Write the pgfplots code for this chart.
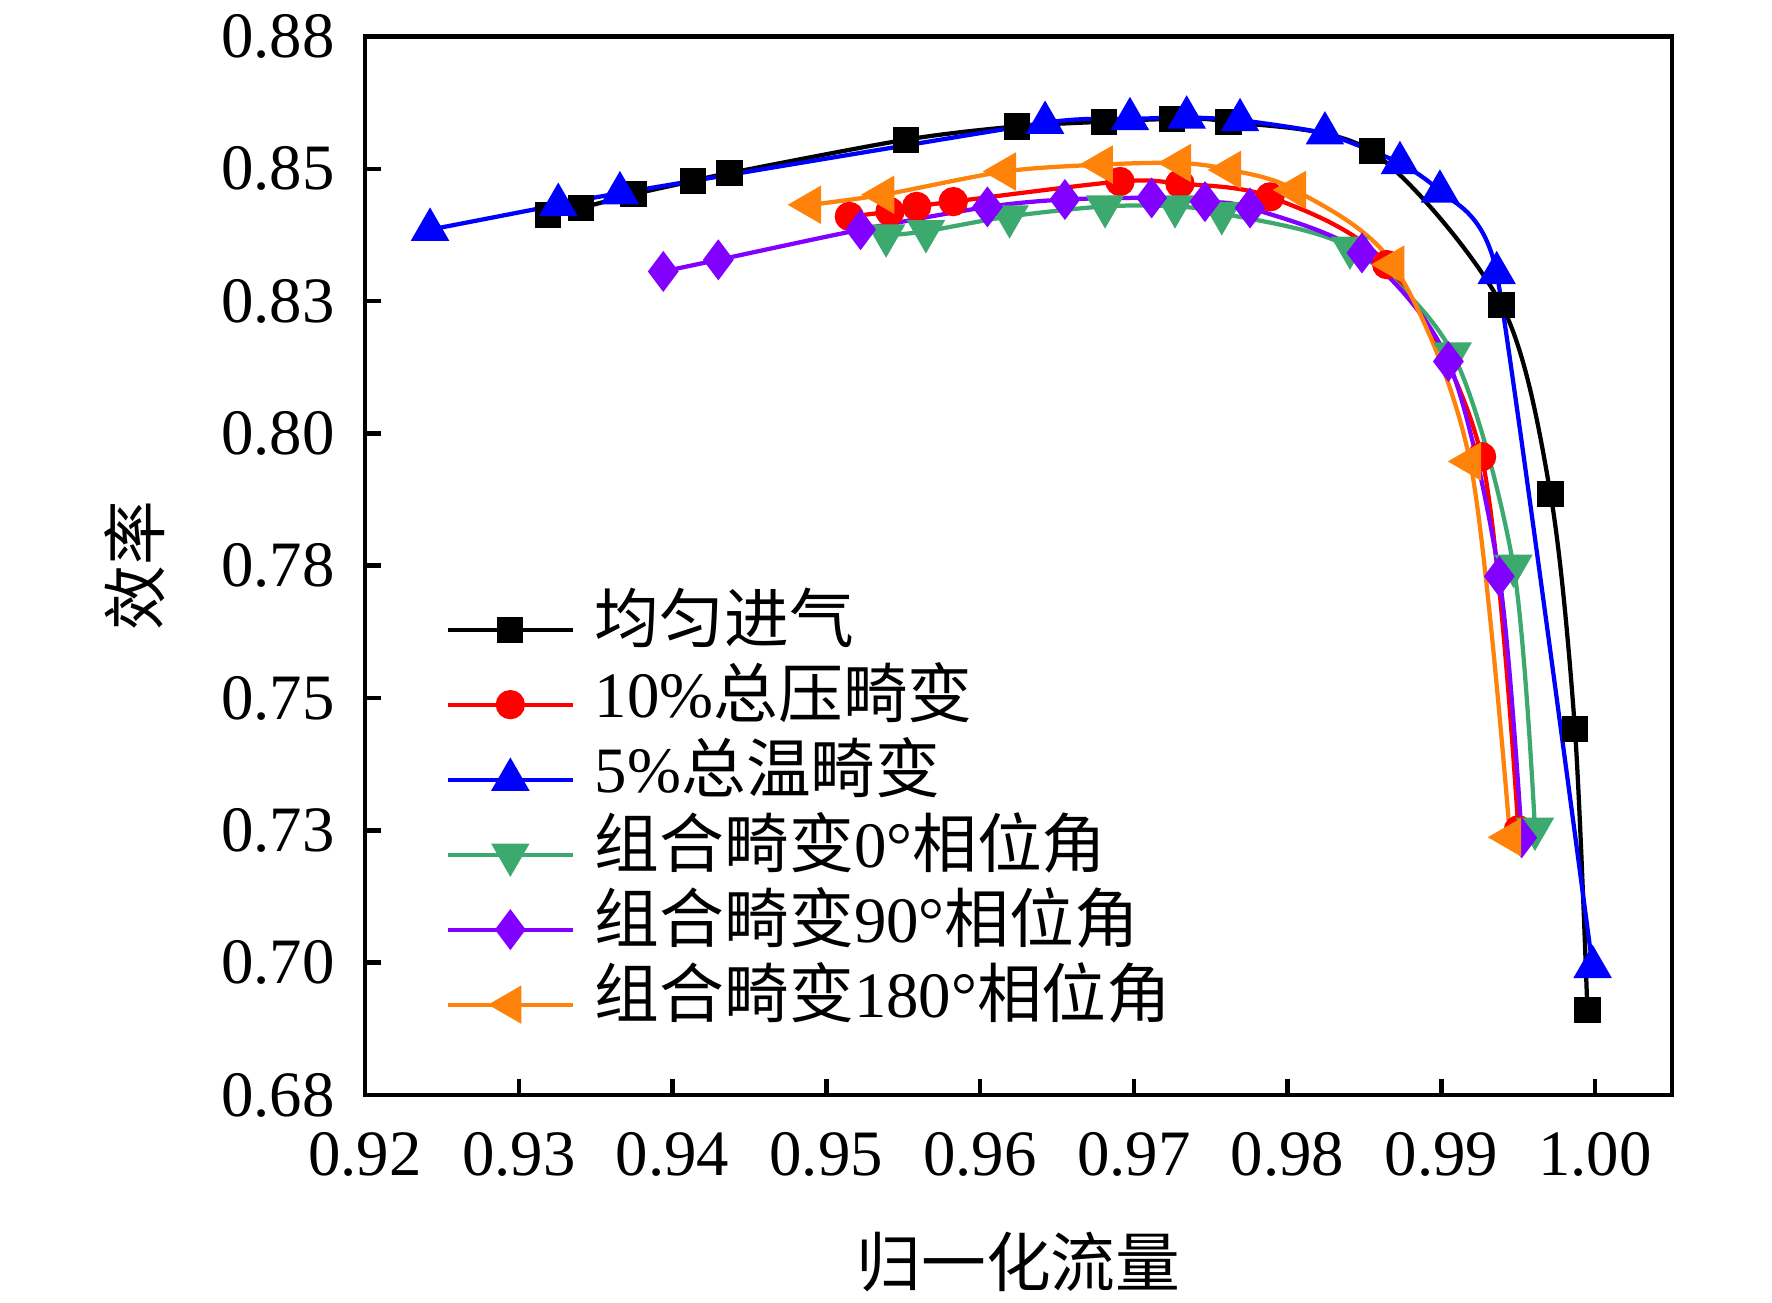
\documentclass[border=0pt]{standalone}
\usepackage{fontspec}
\setmainfont{Liberation Serif}
\newfontfamily\cjk{Noto Sans CJK SC}
\usepackage{pgfplots}
\pgfplotsset{compat=1.18}
\definecolor{cgreen}{RGB}{60,170,110}
\definecolor{cpurple}{RGB}{130,0,255}
\definecolor{corange}{RGB}{255,130,10}
\newcommand{\fs}{\fontsize{13}{15.6}\selectfont}
\begin{document}
\begin{tikzpicture}
\useasboundingbox (-73bp,-41.6bp) rectangle (281.4bp,219.0bp);
\begin{axis}[
  at={(0,0)}, anchor=south west,
  scale only axis, width=261.4bp, height=211.7bp,
  xmin=0.92, xmax=1.005, ymin=0.68, ymax=0.88,
  xtick={0.92,0.93,0.94,0.95,0.96,0.97,0.98,0.99,1.00},
  xticklabels={0.92,0.93,0.94,0.95,0.96,0.97,0.98,0.99,1.00},
  ytick={0.68,0.705,0.73,0.755,0.78,0.805,0.83,0.855,0.88},
  yticklabels={0.68,0.70,0.73,0.75,0.78,0.80,0.83,0.85,0.88},
  xtick pos=bottom, ytick pos=left,
  tick align=inside, major tick length=3.2bp,
  every tick/.style={black, line width=0.9bp},
  axis line style={line width=0.9bp},
  /pgf/number format/assume math mode=true,
  tick label style={font=\fs, inner sep=0pt},
  xticklabel style={anchor=center, yshift=-11.9bp},
  yticklabel style={anchor=east, xshift=-5.9bp},
  xlabel={\cjk 归一化流量},
  ylabel={\cjk 效率},
  label style={font=\fs},
  xlabel style={at={(axis description cs:0.5,-0.158)}, anchor=center},
  ylabel style={at={(axis description cs:-0.176,0.5)}, anchor=center},
  legend image code/.code={\draw[mark repeat=2,mark phase=2] plot coordinates {(0bp,0bp) (12.5bp,0bp) (25bp,0bp)};},
  legend style={draw=none, fill=none, inner sep=0pt, anchor=north west,
    at={(axis description cs:0.0610,0.4760)}, font=\fs, row sep=0pt,
    column sep=4bp,
    nodes={inner sep=0pt, text height=10bp, text depth=5bp}},
  legend cell align=left,
  every axis plot/.append style={line width=0.85bp, smooth, tension=0.5},
]
\addplot[black, mark=square*, mark size=2.2bp, mark options={solid}] coordinates {
(0.93192,0.8463) (0.93403,0.8476) (0.93746,0.8502) (0.94135,0.8527) (0.94370,0.8542)
(0.95518,0.8605) (0.96238,0.8630) (0.96806,0.8639) (0.97247,0.8644) (0.97616,0.8639)
(0.98547,0.8583) (0.99391,0.8293) (0.99710,0.7936) (0.99869,0.7491) (0.99950,0.6961)};
\addlegendentry{\cjk 均匀进气}
\addplot[red, mark=*, mark size=2.5bp] coordinates {
(0.95150,0.8460) (0.95414,0.8469) (0.95588,0.8479) (0.95826,0.8488) (0.96910,0.8526)
(0.97300,0.8522) (0.97886,0.8497) (0.98645,0.8369) (0.99262,0.8006) (0.99501,0.7301)};
\addlegendentry{10\%{\cjk 总压畸变}}
\addplot[blue, mark=triangle*, mark size=3.6bp, tension=0.3] coordinates {
(0.92423,0.8435) (0.93257,0.8482) (0.93658,0.8504) (0.96423,0.8637) (0.96975,0.8644)
(0.97344,0.8647) (0.97691,0.8642) (0.98243,0.8617) (0.98731,0.8561) (0.98991,0.8507)
(0.99360,0.8353) (0.99984,0.7042)};
\addlegendentry{5\%{\cjk 总温畸变}}
\addplot[cgreen, mark=triangle*, mark size=3.6bp, mark options={rotate=180}] coordinates {
(0.95389,0.8424) (0.95648,0.8432) (0.96192,0.8460) (0.96813,0.8479) (0.97268,0.8479)
(0.97572,0.8466) (0.98406,0.8401) (0.99074,0.8201) (0.99469,0.7800) (0.99609,0.7303)};
\addlegendentry{{\cjk 组合畸变}0°{\cjk 相位角}}
\addplot[cpurple, mark=diamond*, mark size=3.4bp] coordinates {
(0.93940,0.8356) (0.94298,0.8378) (0.95223,0.8435) (0.96048,0.8478) (0.96552,0.8492)
(0.97116,0.8495) (0.97463,0.8488) (0.97756,0.8476) (0.98484,0.8391) (0.99046,0.8186)
(0.99377,0.7780) (0.99523,0.7286)};
\addlegendentry{{\cjk 组合畸变}90°{\cjk 相位角}}
\addplot[corange, mark=triangle*, mark size=3.6bp, mark options={rotate=90}] coordinates {
(0.94894,0.8482) (0.95371,0.8501) (0.96162,0.8545) (0.96791,0.8558) (0.97300,0.8561)
(0.97626,0.8548) (0.98048,0.8510) (0.98688,0.8369) (0.99187,0.7997) (0.99447,0.7287)};
\addlegendentry{{\cjk 组合畸变}180°{\cjk 相位角}}
\end{axis}
\end{tikzpicture}
\end{document}
